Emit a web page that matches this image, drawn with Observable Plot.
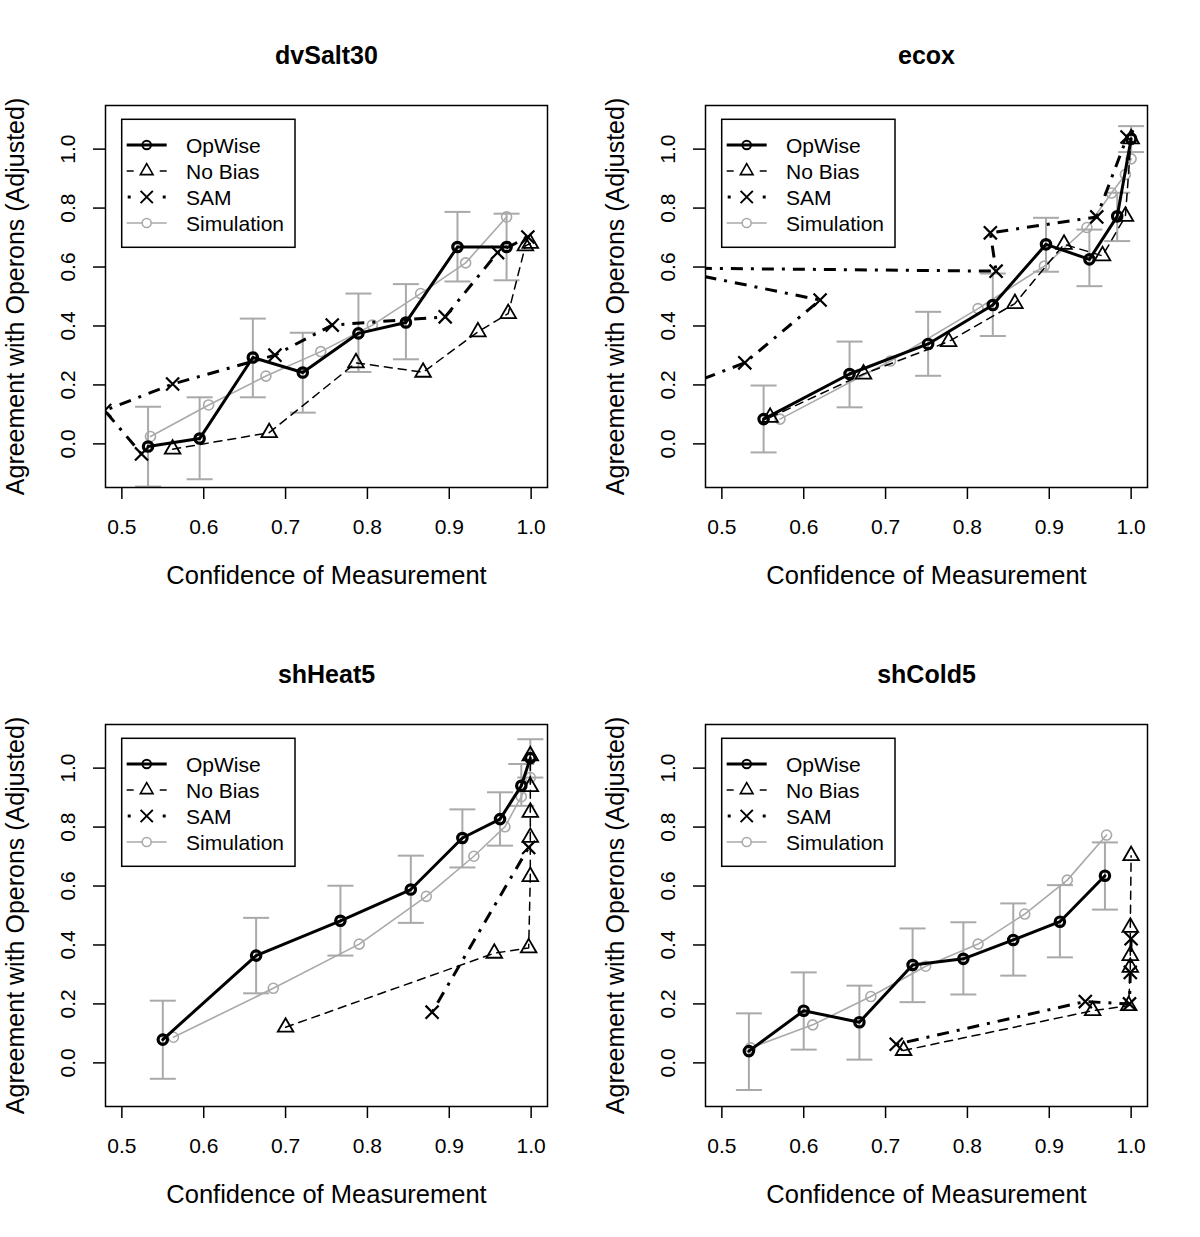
<!DOCTYPE html>
<html><head><meta charset="utf-8">
<script src="https://cdn.jsdelivr.net/npm/d3@7"></script>
<script src="https://cdn.jsdelivr.net/npm/@observablehq/plot@0.6"></script>
<style>
body{margin:0;background:#fff;}
#grid{position:relative;width:1200px;height:1237px;background:#fff;}
.panel{position:absolute;}
</style>
</head><body><div id="grid"></div>
<script>
// ---------- tick labels / texts ----------
const xTicks = [0.5, 0.6, 0.7, 0.8, 0.9, 1.0];
const yTicks = [0.0, 0.2, 0.4, 0.6, 0.8, 1.0];
const panelTitles = ["dvSalt30", "ecox", "shHeat5", "shCold5"];
const seriesNames = ["OpWise", "No Bias", "SAM", "Simulation"];
const xLabel = "Confidence of Measurement";
const yLabel = "Agreement with Operons (Adjusted)";

// ---------- dvSalt30 ----------
const dvSalt30OpX = [0.532, 0.595, 0.660, 0.721, 0.789, 0.847, 0.910, 0.970];
const dvSalt30OpY = [-0.009, 0.018, 0.293, 0.242, 0.375, 0.412, 0.668, 0.668];
const dvSalt30ErrLo = [-0.145, -0.120, 0.158, 0.106, 0.244, 0.287, 0.551, 0.555];
const dvSalt30ErrHi = [0.126, 0.158, 0.425, 0.377, 0.510, 0.542, 0.787, 0.781];
const dvSalt30SimX = [0.535, 0.606, 0.676, 0.743, 0.806, 0.865, 0.920, 0.970];
const dvSalt30SimY = [0.025, 0.132, 0.230, 0.313, 0.403, 0.510, 0.614, 0.770];
const dvSalt30NbX = [0.562, 0.680, 0.786, 0.868, 0.935, 0.972, 0.993, 0.999];
const dvSalt30NbY = [-0.018, 0.038, 0.275, 0.243, 0.380, 0.442, 0.672, 0.680];
const dvSalt30SamX = [0.524, 0.479, 0.562, 0.687, 0.757, 0.895, 0.959, 0.996];
const dvSalt30SamY = [-0.034, 0.113, 0.203, 0.301, 0.403, 0.431, 0.649, 0.702];

// ---------- ecox ----------
const ecoxOpX = [0.551, 0.656, 0.752, 0.831, 0.896, 0.949, 0.983, 1.000];
const ecoxOpY = [0.084, 0.237, 0.339, 0.471, 0.677, 0.626, 0.772, 1.035];
const ecoxErrLo = [-0.029, 0.124, 0.231, 0.366, 0.584, 0.535, 0.688, 0.990];
const ecoxErrHi = [0.198, 0.347, 0.448, 0.578, 0.767, 0.727, 0.852, 1.078];
const ecoxSimX = [0.571, 0.706, 0.813, 0.894, 0.946, 0.976, 0.993, 1.000];
const ecoxSimY = [0.084, 0.281, 0.459, 0.603, 0.734, 0.851, 0.914, 0.967];
const ecoxNbX = [0.559, 0.673, 0.777, 0.858, 0.918, 0.965, 0.993, 1.000];
const ecoxNbY = [0.090, 0.237, 0.347, 0.476, 0.677, 0.638, 0.772, 1.035];
const ecoxSamX = [0.430, 0.528, 0.620, 0.427, 0.835, 0.828, 0.958, 0.995];
const ecoxSamY = [0.170, 0.275, 0.488, 0.597, 0.586, 0.716, 0.770, 1.041];

// ---------- shHeat5 ----------
const shHeat5OpX = [0.550, 0.664, 0.767, 0.853, 0.916, 0.962, 0.988, 0.999];
const shHeat5OpY = [0.079, 0.364, 0.482, 0.588, 0.763, 0.827, 0.940, 1.034];
const shHeat5ErrLo = [-0.054, 0.236, 0.364, 0.475, 0.663, 0.737, 0.872, 0.968];
const shHeat5ErrHi = [0.211, 0.492, 0.601, 0.703, 0.860, 0.918, 1.014, 1.098];
const shHeat5SimX = [0.563, 0.685, 0.790, 0.872, 0.930, 0.968, 0.988, 0.999];
const shHeat5SimY = [0.087, 0.253, 0.403, 0.565, 0.701, 0.801, 0.903, 0.968];
const shHeat5NbX = [0.700, 0.955, 0.997, 0.999, 0.999, 0.999, 0.999, 0.999];
const shHeat5NbY = [0.121, 0.372, 0.390, 0.632, 0.765, 0.850, 0.937, 1.042];
const shHeat5SamX = [0.879, 0.997];
const shHeat5SamY = [0.172, 0.731];

// ---------- shCold5 ----------
const shCold5OpX = [0.533, 0.600, 0.668, 0.733, 0.795, 0.856, 0.913, 0.968];
const shCold5OpY = [0.040, 0.177, 0.138, 0.332, 0.353, 0.417, 0.479, 0.635];
const shCold5ErrLo = [-0.092, 0.045, 0.011, 0.206, 0.232, 0.296, 0.358, 0.520];
const shCold5ErrHi = [0.168, 0.307, 0.262, 0.456, 0.477, 0.541, 0.603, 0.748];
const shCold5SimX = [0.535, 0.611, 0.682, 0.749, 0.813, 0.870, 0.922, 0.970];
const shCold5SimY = [0.051, 0.129, 0.225, 0.328, 0.403, 0.505, 0.620, 0.773];
const shCold5NbX = [0.722, 0.953, 0.997, 0.999, 0.999, 0.999, 1.000];
const shCold5NbY = [0.042, 0.177, 0.194, 0.324, 0.364, 0.460, 0.703];
const shCold5SamX = [0.713, 0.944, 0.998, 0.999, 1.000];
const shCold5SamY = [0.063, 0.208, 0.200, 0.307, 0.421];

// ---------- build ----------
const zip = (xs, ys) => xs.map((x, i) => ({x, y: ys[i]}));
const panels = [
  {title: panelTitles[0], left: 0, top: 0, op: zip(dvSalt30OpX, dvSalt30OpY), lo: dvSalt30ErrLo, hi: dvSalt30ErrHi, opx: dvSalt30OpX,
   sim: zip(dvSalt30SimX, dvSalt30SimY), nb: zip(dvSalt30NbX, dvSalt30NbY), sam: zip(dvSalt30SamX, dvSalt30SamY)},
  {title: panelTitles[1], left: 600, top: 0, op: zip(ecoxOpX, ecoxOpY), lo: ecoxErrLo, hi: ecoxErrHi, opx: ecoxOpX,
   sim: zip(ecoxSimX, ecoxSimY), nb: zip(ecoxNbX, ecoxNbY), sam: zip(ecoxSamX, ecoxSamY)},
  {title: panelTitles[2], left: 0, top: 619, op: zip(shHeat5OpX, shHeat5OpY), lo: shHeat5ErrLo, hi: shHeat5ErrHi, opx: shHeat5OpX,
   sim: zip(shHeat5SimX, shHeat5SimY), nb: zip(shHeat5NbX, shHeat5NbY), sam: zip(shHeat5SamX, shHeat5SamY)},
  {title: panelTitles[3], left: 600, top: 619, op: zip(shCold5OpX, shCold5OpY), lo: shCold5ErrLo, hi: shCold5ErrHi, opx: shCold5OpX,
   sim: zip(shCold5SimX, shCold5SimY), nb: zip(shCold5NbX, shCold5NbY), sam: zip(shCold5SamX, shCold5SamY)}
];

const GRAY = "#a9a9a9";
const FONT = "'Liberation Sans', Arial, Helvetica, sans-serif";
const capSymbol = {draw(ctx) { ctx.moveTo(-13, 0); ctx.lineTo(13, 0); }};
const fmt = d3.format(".1f");

const grid = document.getElementById("grid");

for (const p of panels) {
  const err = p.opx.map((x, i) => ({x, lo: p.lo[i], hi: p.hi[i]}));
  const svg = Plot.plot({
    width: 600, height: 618,
    marginLeft: 105, marginRight: 53, marginTop: 105, marginBottom: 131,
    x: {domain: [0.48, 1.02]},
    y: {domain: [-0.148, 1.148]},
    style: {fontFamily: FONT, background: "white", color: "black", overflow: "visible"},
    marks: [
      Plot.axisX({ticks: xTicks, tickFormat: fmt, tickSize: 12, tickPadding: 20, fontSize: 21, strokeWidth: 1.5, label: null}),
      Plot.axisY({ticks: yTicks, tickFormat: fmt, tickSize: 12, tickPadding: 19, tickRotate: -90, fontSize: 21, strokeWidth: 1.5, label: null}),
      // error bars
      Plot.ruleX(err, {x: "x", y1: "lo", y2: "hi", stroke: GRAY, strokeWidth: 2, clip: true}),
      Plot.dot(err, {x: "x", y: "lo", symbol: capSymbol, fill: "none", stroke: GRAY, strokeWidth: 2, clip: true}),
      Plot.dot(err, {x: "x", y: "hi", symbol: capSymbol, fill: "none", stroke: GRAY, strokeWidth: 2, clip: true}),
      // Simulation
      Plot.line(p.sim, {x: "x", y: "y", stroke: GRAY, strokeWidth: 1.6, clip: true}),
      Plot.dot(p.sim, {x: "x", y: "y", r: 5, fill: "none", stroke: GRAY, strokeWidth: 1.6, clip: true}),
      // No Bias
      Plot.line(p.nb, {x: "x", y: "y", stroke: "black", strokeWidth: 1.5, strokeDasharray: "8,6", clip: true}),
      Plot.dot(p.nb, {x: "x", y: "y", symbol: "triangle", r: 5.8, fill: "none", stroke: "black", strokeWidth: 1.8, clip: true}),
      // SAM
      Plot.line(p.sam, {x: "x", y: "y", stroke: "black", strokeWidth: 3, strokeDasharray: "3,8,12,8", strokeLinecap: "butt", clip: true}),
      Plot.dot(p.sam, {x: "x", y: "y", symbol: "times", r: 6, stroke: "black", strokeWidth: 2.2, clip: true}),
      // OpWise
      Plot.line(p.op, {x: "x", y: "y", stroke: "black", strokeWidth: 3, clip: true}),
      Plot.dot(p.op, {x: "x", y: "y", r: 4.7, fill: "none", stroke: "black", strokeWidth: 3.2, clip: true}),
      Plot.frame({stroke: "black", strokeWidth: 1.5}),
      // texts
      Plot.text([p.title], {text: d => d, frameAnchor: "top", textAnchor: "middle", lineAnchor: "bottom", dy: -42, fontSize: 25, fontWeight: "bold"}),
      Plot.text([xLabel], {text: d => d, frameAnchor: "bottom", textAnchor: "middle", lineAnchor: "bottom", dy: 96, fontSize: 25.5}),
      Plot.text([yLabel], {text: d => d, frameAnchor: "left", textAnchor: "middle", lineAnchor: "bottom", rotate: -90, dx: -82, fontSize: 25})
    ]
  });

  // legend inside the plot (top-left)
  const g = d3.select(svg).append("g").attr("font-family", FONT);
  g.append("rect").attr("x", 121.7).attr("y", 119.3).attr("width", 173.3).attr("height", 128)
    .attr("fill", "white").attr("stroke", "black").attr("stroke-width", 1.5);
  const rows = [145, 171, 197, 223];
  const lx1 = 126.7, lx2 = 166.7, lm = 146.7;
  // OpWise
  g.append("line").attr("x1", lx1).attr("x2", lx2).attr("y1", rows[0]).attr("y2", rows[0]).attr("stroke", "black").attr("stroke-width", 3);
  g.append("circle").attr("cx", lm).attr("cy", rows[0]).attr("r", 4.3).attr("fill", "none").attr("stroke", "black").attr("stroke-width", 2);
  // No Bias
  g.append("line").attr("x1", lx1).attr("x2", lx1 + 7).attr("y1", rows[1]).attr("y2", rows[1]).attr("stroke", "black").attr("stroke-width", 1.5);
  g.append("line").attr("x1", lx2 - 7).attr("x2", lx2).attr("y1", rows[1]).attr("y2", rows[1]).attr("stroke", "black").attr("stroke-width", 1.5);
  g.append("path").attr("transform", `translate(${lm},${rows[1]})`).attr("d", d3.symbol(d3.symbolTriangle, 70)())
    .attr("fill", "none").attr("stroke", "black").attr("stroke-width", 1.6);
  // SAM
  g.append("line").attr("x1", lx1 + 1).attr("x2", lx1 + 4).attr("y1", rows[2]).attr("y2", rows[2]).attr("stroke", "black").attr("stroke-width", 3);
  g.append("line").attr("x1", lx2 - 4).attr("x2", lx2 - 1).attr("y1", rows[2]).attr("y2", rows[2]).attr("stroke", "black").attr("stroke-width", 3);
  g.append("path").attr("transform", `translate(${lm},${rows[2]})`).attr("d", d3.symbol(d3.symbolTimes, 100)())
    .attr("fill", "none").attr("stroke", "black").attr("stroke-width", 2);
  // Simulation
  g.append("line").attr("x1", lx1).attr("x2", lx2).attr("y1", rows[3]).attr("y2", rows[3]).attr("stroke", GRAY).attr("stroke-width", 1.6);
  g.append("circle").attr("cx", lm).attr("cy", rows[3]).attr("r", 4.5).attr("fill", "white").attr("stroke", GRAY).attr("stroke-width", 1.6);
  seriesNames.forEach((name, i) => {
    g.append("text").attr("x", 186).attr("y", rows[i] + 7.5).attr("font-size", 21)
      .attr("text-anchor", "start").attr("fill", "black").text(name);
  });

  const div = document.createElement("div");
  div.className = "panel";
  div.style.left = p.left + "px";
  div.style.top = p.top + "px";
  div.appendChild(svg);
  grid.appendChild(div);
}
</script>
</body></html>
